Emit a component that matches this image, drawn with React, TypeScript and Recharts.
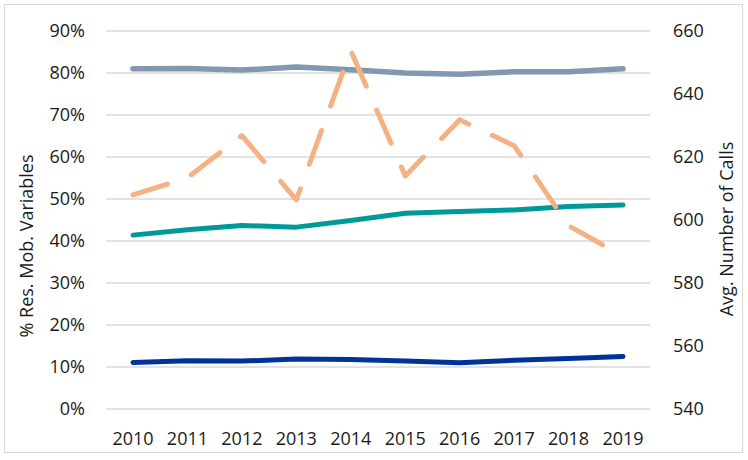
import React from 'react';
import { LineChart, Line, XAxis, YAxis, CartesianGrid } from 'recharts';

const years = ['2010', '2011', '2012', '2013', '2014', '2015', '2016', '2017', '2018', '2019'];
const greySeries = [81.0, 81.1, 80.7, 81.4, 80.8, 80.0, 79.7, 80.3, 80.3, 81.0];
const tealSeries = [41.4, 42.7, 43.7, 43.3, 44.9, 46.6, 47.0, 47.4, 48.2, 48.6];
const navySeries = [11.1, 11.5, 11.4, 11.9, 11.8, 11.4, 11.0, 11.6, 12.0, 12.5];
const callsSeries = [608.0, 613.4, 626.8, 606.4, 653.8, 614.0, 631.8, 623.6, 598.2, 588.5];
const leftTicks = [0, 10, 20, 30, 40, 50, 60, 70, 80, 90];
const rightTicks = [540, 560, 580, 600, 620, 640, 660];

const data = years.map((y, i) => ({
  year: y,
  grey: greySeries[i],
  teal: tealSeries[i],
  navy: navySeries[i],
  calls: callsSeries[i],
}));

const FONT = '"Open Sans", "Noto Sans", sans-serif';
const tickStyle = { fontSize: 18, fill: '#1a1a1a', fontFamily: FONT };

const LeftLabel = () => (
  <text
    x={26}
    y={246}
    transform="rotate(-90 26 246)"
    textAnchor="middle"
    dominantBaseline="central"
    fontSize={18}
    fontFamily={FONT}
    fill="#1a1a1a"
  >
    % Res. Mob. Variables
  </text>
);

const RightLabel = () => (
  <text
    x={726}
    y={229}
    transform="rotate(-90 726 229)"
    textAnchor="middle"
    dominantBaseline="central"
    fontSize={18}
    fontFamily={FONT}
    fill="#1a1a1a"
  >
    Avg. Number of Calls
  </text>
);

export default function App() {
  return (
    <div style={{ position: 'absolute', left: 0, top: 0, width: 748, height: 460, background: '#fff' }}>
      <div
        style={{
          position: 'absolute',
          left: 4,
          top: 4,
          width: 737,
          height: 447,
          border: '1px solid #d9d9d9',
        }}
      />
      <div style={{ position: 'absolute', left: 0, top: 0 }}>
        <LineChart width={748} height={460} data={data} margin={{ top: 31, right: 0, bottom: 0, left: 0 }}>
          <CartesianGrid vertical={false} stroke="#d9d9d9" strokeWidth={1.3} yAxisId="left" />
          <XAxis
            dataKey="year"
            axisLine={false}
            tickLine={false}
            tickSize={0}
            tickMargin={23}
            height={51}
            tick={tickStyle}
            interval={0}
            padding={{ left: 27, right: 27 }}
          />
          <YAxis
            yAxisId="left"
            orientation="left"
            width={106}
            domain={[0, 90]}
            ticks={leftTicks}
            tickFormatter={(v: number) => `${v}%`}
            axisLine={false}
            tickLine={false}
            tickSize={0}
            tickMargin={21}
            tick={tickStyle}
            interval={0}
            label={<LeftLabel />}
          />
          <YAxis
            yAxisId="right"
            orientation="right"
            width={98}
            domain={[540, 660]}
            ticks={rightTicks}
            axisLine={false}
            tickLine={false}
            tickSize={0}
            tickMargin={23}
            tick={{ ...tickStyle, textAnchor: 'start' }}
            interval={0}
            label={<RightLabel />}
          />
          <Line
            yAxisId="left"
            dataKey="grey"
            stroke="#8497b0"
            strokeWidth={5.5}
            dot={false}
            strokeLinecap="round"
            strokeLinejoin="round"
            isAnimationActive={false}
          />
          <Line
            yAxisId="left"
            dataKey="teal"
            stroke="#009999"
            strokeWidth={5}
            dot={false}
            strokeLinecap="round"
            strokeLinejoin="round"
            isAnimationActive={false}
          />
          <Line
            yAxisId="left"
            dataKey="navy"
            stroke="#003399"
            strokeWidth={5}
            dot={false}
            strokeLinecap="round"
            strokeLinejoin="round"
            isAnimationActive={false}
          />
          <Line
            yAxisId="right"
            dataKey="calls"
            stroke="#f4b183"
            strokeWidth={5}
            strokeDasharray="36 26"
            dot={false}
            strokeLinecap="round"
            strokeLinejoin="round"
            isAnimationActive={false}
          />
        </LineChart>
      </div>
    </div>
  );
}
